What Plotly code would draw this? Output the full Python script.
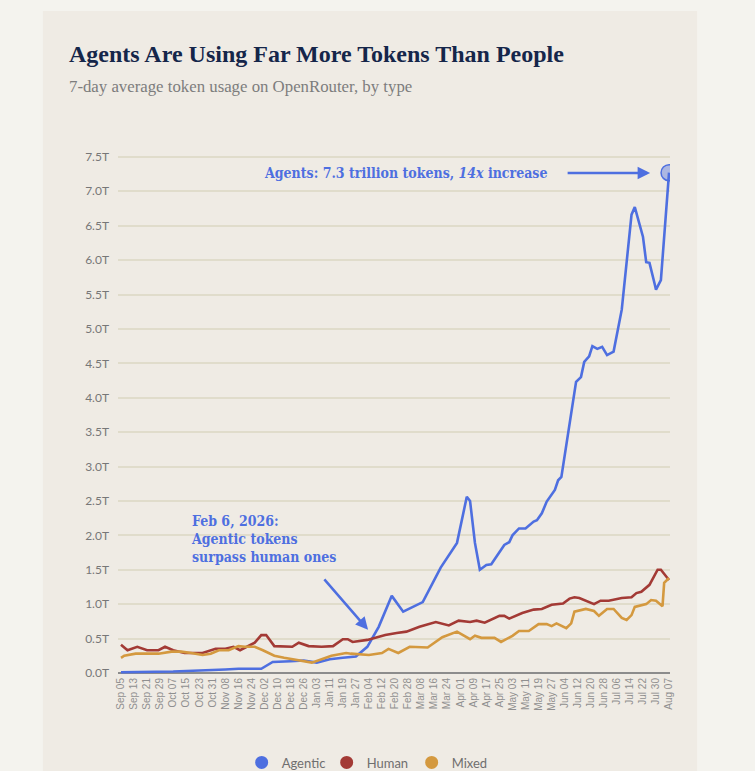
import plotly.graph_objects as go

# 7-day average token usage, trillions of tokens
agentic_dates = ['2025-09-05', '2025-10-07', '2025-11-08', '2025-11-16', '2025-11-30', '2025-12-07',
                 '2025-12-18', '2025-12-26', '2026-01-03', '2026-01-11', '2026-01-19', '2026-01-27',
                 '2026-02-03', '2026-02-10', '2026-02-18', '2026-02-25', '2026-03-09', '2026-03-20',
                 '2026-03-30', '2026-04-05', '2026-04-07', '2026-04-10', '2026-04-13', '2026-04-17',
                 '2026-04-20', '2026-04-28', '2026-05-01', '2026-05-03', '2026-05-07', '2026-05-11',
                 '2026-05-16', '2026-05-18', '2026-05-21', '2026-05-24', '2026-05-29', '2026-05-31',
                 '2026-06-02', '2026-06-06', '2026-06-11', '2026-06-14', '2026-06-16', '2026-06-19',
                 '2026-06-21', '2026-06-24', '2026-06-27', '2026-06-30', '2026-07-04', '2026-07-09',
                 '2026-07-15', '2026-07-17', '2026-07-22', '2026-07-24', '2026-07-26', '2026-07-29',
                 '2026-07-30', '2026-08-02', '2026-08-07']
agentic = [0.01, 0.02, 0.05, 0.06, 0.06, 0.16,
           0.17, 0.18, 0.15, 0.20, 0.22, 0.24,
           0.38, 0.67, 1.12, 0.89, 1.03, 1.53,
           1.89, 2.56, 2.50, 1.89, 1.50, 1.57,
           1.58, 1.86, 1.90, 2.00, 2.10, 2.10,
           2.20, 2.22, 2.32, 2.49, 2.66, 2.80,
           2.85, 3.49, 4.23, 4.30, 4.52, 4.60,
           4.75, 4.71, 4.74, 4.62, 4.67, 5.28,
           6.66, 6.77, 6.34, 5.97, 5.96, 5.67,
           5.57, 5.71, 7.27]

human_dates = ['2025-09-05', '2025-09-09', '2025-09-15', '2025-09-21', '2025-09-28', '2025-10-02',
               '2025-10-07', '2025-10-14', '2025-10-25', '2025-11-02', '2025-11-08', '2025-11-13',
               '2025-11-17', '2025-11-26', '2025-11-30', '2025-12-03', '2025-12-08', '2025-12-14',
               '2025-12-19', '2025-12-23', '2025-12-29', '2026-01-06', '2026-01-13', '2026-01-19',
               '2026-01-22', '2026-01-25', '2026-02-03', '2026-02-08', '2026-02-14', '2026-02-21',
               '2026-02-27', '2026-03-07', '2026-03-17', '2026-03-25', '2026-03-31', '2026-04-07',
               '2026-04-11', '2026-04-16', '2026-04-25', '2026-04-28', '2026-05-01', '2026-05-09',
               '2026-05-16', '2026-05-21', '2026-05-27', '2026-06-03', '2026-06-07', '2026-06-10',
               '2026-06-13', '2026-06-22', '2026-06-26', '2026-07-01', '2026-07-09', '2026-07-15',
               '2026-07-18', '2026-07-21', '2026-07-26', '2026-07-31', '2026-08-02', '2026-08-07']
human = [0.41, 0.33, 0.38, 0.33, 0.33, 0.38,
         0.33, 0.29, 0.29, 0.35, 0.35, 0.38,
         0.33, 0.44, 0.55, 0.55, 0.39, 0.38,
         0.38, 0.44, 0.39, 0.38, 0.39, 0.49,
         0.49, 0.45, 0.48, 0.51, 0.55, 0.58,
         0.60, 0.67, 0.74, 0.69, 0.76, 0.74,
         0.76, 0.73, 0.83, 0.83, 0.79, 0.87,
         0.92, 0.93, 0.99, 1.01, 1.08, 1.10,
         1.09, 1.00, 1.05, 1.05, 1.09, 1.10,
         1.16, 1.18, 1.28, 1.50, 1.50, 1.35]

mixed_dates = ['2025-09-05', '2025-09-07', '2025-09-14', '2025-09-28', '2025-10-06', '2025-10-12',
               '2025-10-18', '2025-10-25', '2025-10-30', '2025-11-04', '2025-11-10', '2025-11-16',
               '2025-11-20', '2025-11-26', '2025-12-01', '2025-12-08', '2025-12-14', '2025-12-31',
               '2026-01-12', '2026-01-21', '2026-01-24', '2026-02-04', '2026-02-12', '2026-02-16',
               '2026-02-22', '2026-03-01', '2026-03-12', '2026-03-21', '2026-03-30', '2026-04-07',
               '2026-04-10', '2026-04-14', '2026-04-22', '2026-04-26', '2026-05-03', '2026-05-07',
               '2026-05-13', '2026-05-19', '2026-05-24', '2026-05-27', '2026-05-30', '2026-06-05',
               '2026-06-08', '2026-06-10', '2026-06-17', '2026-06-22', '2026-06-25', '2026-06-30',
               '2026-07-04', '2026-07-09', '2026-07-12', '2026-07-15', '2026-07-17', '2026-07-24',
               '2026-07-27', '2026-07-30', '2026-08-03', '2026-08-04', '2026-08-07']
mixed = [0.22, 0.25, 0.28, 0.28, 0.31, 0.31,
         0.29, 0.26, 0.28, 0.33, 0.33, 0.39,
         0.38, 0.38, 0.33, 0.25, 0.22, 0.15,
         0.25, 0.29, 0.28, 0.26, 0.29, 0.35,
         0.29, 0.38, 0.37, 0.52, 0.60, 0.49,
         0.54, 0.51, 0.51, 0.45, 0.54, 0.61,
         0.61, 0.71, 0.71, 0.68, 0.72, 0.65,
         0.72, 0.89, 0.93, 0.90, 0.83, 0.93,
         0.93, 0.80, 0.77, 0.84, 0.96, 1.00,
         1.06, 1.05, 0.97, 1.31, 1.38]

BLUE = '#4e6fe0'
RED = '#a33a35'
GOLD = '#d4993f'
GRAY = '#777777'
PAGE = '#f4f3ee'

fig = go.Figure()
series = [('Agentic', agentic_dates, agentic, BLUE),
          ('Human', human_dates, human, RED),
          ('Mixed', mixed_dates, mixed, GOLD)]
for name, xs, ys, col in series:
    fig.add_trace(go.Scatter(x=xs, y=ys, mode='lines', name=name,
                             line=dict(color=col, width=2.6), showlegend=False))

# end-point marker on the agentic line
fig.add_trace(go.Scatter(x=[agentic_dates[-1]], y=[agentic[-1]], mode='markers',
                         marker=dict(size=16, color='rgba(78,111,224,0.42)',
                                     line=dict(color=BLUE, width=1.5)),
                         showlegend=False))

# legend entries shown as dots
for name, xs, ys, col in series:
    fig.add_trace(go.Scatter(x=[None], y=[None], mode='markers', name=name,
                             marker=dict(size=13, color=col)))

# card behind the chart
fig.add_shape(type='rect', xref='paper', yref='paper', x0=-0.136, x1=1.049,
              y0=-0.3, y1=1.265, fillcolor='#efebe4', line=dict(width=0), layer='below')

fig.add_annotation(xref='paper', yref='paper', x=-0.093, y=1.183, xanchor='left', yanchor='middle',
                   text='<b>Agents Are Using Far More Tokens Than People</b>', showarrow=False,
                   font=dict(family='Liberation Serif', size=24, color='#15264a'))
fig.add_annotation(xref='paper', yref='paper', x=-0.093, y=1.12, xanchor='left', yanchor='middle',
                   text='7-day average token usage on OpenRouter, by type', showarrow=False,
                   font=dict(family='Liberation Serif', size=16.8, color='#7d7d7d'))

fig.add_annotation(xref='paper', yref='paper', x=0.26, y=0.956, xanchor='left', yanchor='middle',
                   text='<b>Agents: 7.3 trillion tokens, <i>14x</i> increase</b>', showarrow=False,
                   font=dict(family='DejaVu Serif Condensed', size=14, color=BLUE))
fig.add_annotation(xref='paper', yref='paper', x=0.964, y=0.956, ax=-84, ay=0,
                   text='', showarrow=True, arrowhead=2, arrowsize=1, arrowwidth=2.5,
                   arrowcolor=BLUE)

fig.add_annotation(xref='paper', yref='paper', x=0.128, y=0.259, xanchor='left', yanchor='middle',
                   align='left', showarrow=False,
                   text='<b>Feb 6, 2026:<br>Agentic tokens<br>surpass human ones</b>',
                   font=dict(family='DejaVu Serif Condensed', size=14, color=BLUE))
fig.add_annotation(xref='paper', yref='paper', x=0.453, y=0.086, ax=-45, ay=-52,
                   text='', showarrow=True, arrowhead=2, arrowsize=1, arrowwidth=2.5,
                   arrowcolor=BLUE)

fig.update_xaxes(range=['2025-09-03 04:00', '2026-08-07 14:00'], type='date',
                 tick0='2025-09-05', dtick=8 * 86400000, tickformat='%b %d', tickangle=-90,
                 showgrid=False, zeroline=False, showline=False, ticks='',
                 tickfont=dict(family='Liberation Sans', size=10, color='#8f8f8f'))
fig.update_yaxes(range=[-0.03, 7.6], dtick=0.5, tickformat='.1f', ticksuffix='T',
                 showgrid=True, gridcolor='#e0dccb', gridwidth=1.5,
                 zeroline=True, zerolinecolor='#8c8c8c', zerolinewidth=1.5,
                 ticks='', ticklabelstandoff=8,
                 tickfont=dict(family='Lato', size=12, color=GRAY))

fig.update_layout(
    width=755, height=771,
    margin=dict(l=118, r=85, t=150, b=96),
    paper_bgcolor=PAGE, plot_bgcolor='rgba(0,0,0,0)',
    legend=dict(orientation='h', x=0.455, xanchor='center',
                yref='container', y=0.011, yanchor='middle',
                entrywidth=40,
                font=dict(family='Lato', size=13, color='#6f6f6f'),
                bgcolor='rgba(0,0,0,0)', itemsizing='trace'),
    hovermode=False,
)

fig.write_html("out.html", config={'displayModeBar': False},
               post_script="document.body.style.margin='0';document.body.style.background='%s';" % PAGE)
